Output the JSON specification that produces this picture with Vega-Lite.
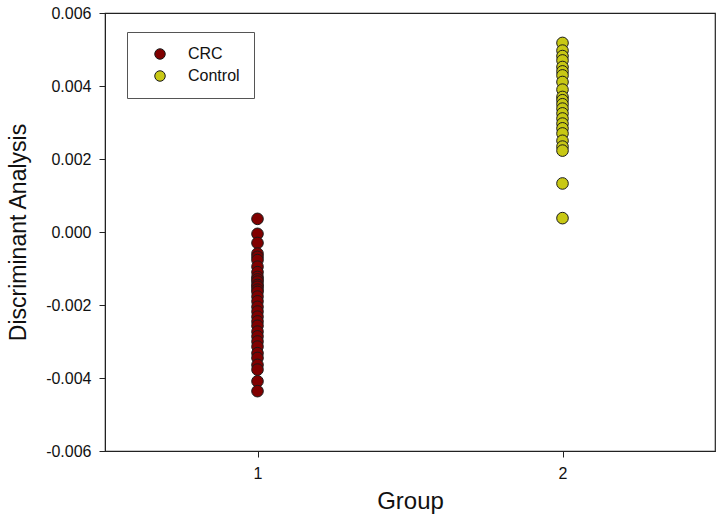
{
  "$schema": "https://vega.github.io/schema/vega-lite/v6.json",
  "width": 610,
  "height": 438,
  "autosize": {"type": "none"},
  "padding": {"left": 105, "top": 13, "right": 6, "bottom": 66},
  "background": "white",
  "config": {
    "font": "Liberation Sans",
    "view": {"stroke": "#222222", "strokeWidth": 1.2},
    "axis": {"grid": false, "domainColor": "#222222", "tickColor": "#222222", "labelColor": "#111111", "titleColor": "#111111", "labelFont": "Liberation Sans", "titleFont": "Liberation Sans", "titleFontWeight": "normal"}
  },
  "data": {
    "values": [
      {"group": 1, "da": 0.00036, "type": "CRC"},
      {"group": 1, "da": -0.00005, "type": "CRC"},
      {"group": 1, "da": -0.0003, "type": "CRC"},
      {"group": 1, "da": -0.00059, "type": "CRC"},
      {"group": 1, "da": -0.00068, "type": "CRC"},
      {"group": 1, "da": -0.00077, "type": "CRC"},
      {"group": 1, "da": -0.00095, "type": "CRC"},
      {"group": 1, "da": -0.0011, "type": "CRC"},
      {"group": 1, "da": -0.00123, "type": "CRC"},
      {"group": 1, "da": -0.0013, "type": "CRC"},
      {"group": 1, "da": -0.00136, "type": "CRC"},
      {"group": 1, "da": -0.00145, "type": "CRC"},
      {"group": 1, "da": -0.0015, "type": "CRC"},
      {"group": 1, "da": -0.00158, "type": "CRC"},
      {"group": 1, "da": -0.00164, "type": "CRC"},
      {"group": 1, "da": -0.00177, "type": "CRC"},
      {"group": 1, "da": -0.0019, "type": "CRC"},
      {"group": 1, "da": -0.00205, "type": "CRC"},
      {"group": 1, "da": -0.00218, "type": "CRC"},
      {"group": 1, "da": -0.00232, "type": "CRC"},
      {"group": 1, "da": -0.00245, "type": "CRC"},
      {"group": 1, "da": -0.00257, "type": "CRC"},
      {"group": 1, "da": -0.00273, "type": "CRC"},
      {"group": 1, "da": -0.00286, "type": "CRC"},
      {"group": 1, "da": -0.003, "type": "CRC"},
      {"group": 1, "da": -0.00314, "type": "CRC"},
      {"group": 1, "da": -0.00332, "type": "CRC"},
      {"group": 1, "da": -0.00345, "type": "CRC"},
      {"group": 1, "da": -0.00364, "type": "CRC"},
      {"group": 1, "da": -0.00377, "type": "CRC"},
      {"group": 1, "da": -0.00409, "type": "CRC"},
      {"group": 1, "da": -0.00436, "type": "CRC"},
      {"group": 2, "da": 0.00518, "type": "Control"},
      {"group": 2, "da": 0.00497, "type": "Control"},
      {"group": 2, "da": 0.00482, "type": "Control"},
      {"group": 2, "da": 0.0047, "type": "Control"},
      {"group": 2, "da": 0.00452, "type": "Control"},
      {"group": 2, "da": 0.00440, "type": "Control"},
      {"group": 2, "da": 0.00429, "type": "Control"},
      {"group": 2, "da": 0.00411, "type": "Control"},
      {"group": 2, "da": 0.0039, "type": "Control"},
      {"group": 2, "da": 0.0037, "type": "Control"},
      {"group": 2, "da": 0.00361, "type": "Control"},
      {"group": 2, "da": 0.0035, "type": "Control"},
      {"group": 2, "da": 0.00338, "type": "Control"},
      {"group": 2, "da": 0.00325, "type": "Control"},
      {"group": 2, "da": 0.00311, "type": "Control"},
      {"group": 2, "da": 0.00297, "type": "Control"},
      {"group": 2, "da": 0.00284, "type": "Control"},
      {"group": 2, "da": 0.0027, "type": "Control"},
      {"group": 2, "da": 0.0025, "type": "Control"},
      {"group": 2, "da": 0.00234, "type": "Control"},
      {"group": 2, "da": 0.00223, "type": "Control"},
      {"group": 2, "da": 0.00133, "type": "Control"},
      {"group": 2, "da": 0.00038, "type": "Control"}
    ]
  },
  "mark": {"type": "point", "filled": true, "opacity": 1, "stroke": "#1a1a1a", "strokeWidth": 1, "size": 135},
  "encoding": {
    "x": {
      "field": "group", "type": "quantitative",
      "scale": {"domain": [0.5, 2.5], "nice": false, "zero": false},
      "axis": {"values": [1, 2], "format": "d", "title": "Group", "labelFontSize": 16, "titleFontSize": 24, "tickSize": 6, "labelPadding": 8, "titlePadding": 8, "labelFlush": false}
    },
    "y": {
      "field": "da", "type": "quantitative",
      "scale": {"domain": [-0.006, 0.006], "nice": false, "zero": false},
      "axis": {"values": [-0.006, -0.004, -0.002, 0, 0.002, 0.004, 0.006], "format": ".3f", "labelExpr": "replace(datum.label, '\u2212', '-')", "title": "Discriminant Analysis", "labelFontSize": 16, "titleFontSize": 23, "tickSize": 6, "labelPadding": 8, "titlePadding": 15, "labelFlush": false}
    },
    "fill": {
      "field": "type", "type": "nominal",
      "scale": {"domain": ["CRC", "Control"], "range": ["#800000", "#c8c814"]},
      "legend": {
        "title": null, "orient": "none", "legendX": 22, "legendY": 19,
        "padding": 14, "symbolOffset": 11, "symbolSize": 110, "symbolType": "circle",
        "symbolStrokeColor": "#1a1a1a", "symbolStrokeWidth": 1,
        "labelFontSize": 16, "labelOffset": 20, "rowPadding": 6,
        "strokeColor": "#555555", "fillColor": "white", "labelColor": "#111111"
      }
    }
  }
}
